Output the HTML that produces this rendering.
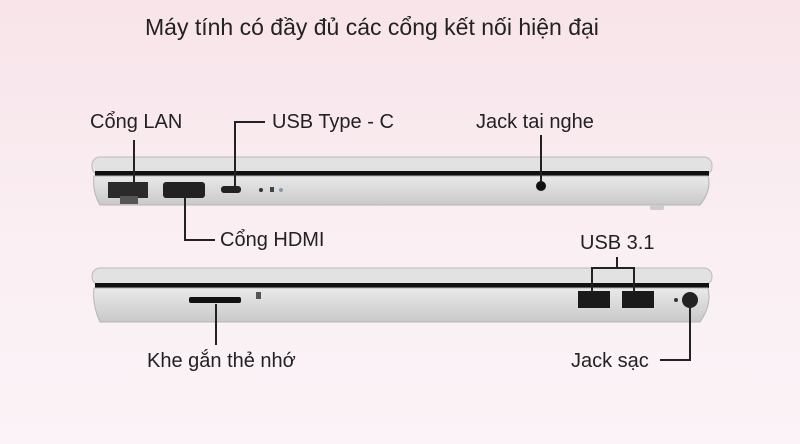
<!DOCTYPE html>
<html><head><meta charset="utf-8"><style>
body{margin:0;width:800px;height:444px;overflow:hidden;background:linear-gradient(#f8e4e9,#faf0f4 60%,#fbf3f7);font-family:"Liberation Sans","Noto Sans CJK SC",sans-serif;position:relative;color:#222}
.t{position:absolute;font-size:20px;white-space:nowrap}
</style></head><body>
<div class="t" style="left:145px;top:14px;font-size:23px">Máy tính có đầy đủ các cổng kết nối hiện đại</div>
<div class="t" style="left:90px;top:111px">Cổng LAN</div>
<div class="t" style="left:272px;top:111px">USB Type - C</div>
<div class="t" style="left:476px;top:111px">Jack tai nghe</div>
<div class="t" style="left:220px;top:229px">Cổng HDMI</div>
<div class="t" style="left:580px;top:232px">USB 3.1</div>
<div class="t" style="left:147px;top:350px">Khe gắn thẻ nhớ</div>
<div class="t" style="left:571px;top:350px">Jack sạc</div>
<svg width="800" height="444" style="position:absolute;left:0;top:0">
<defs><linearGradient id="g" x1="0" y1="0" x2="0" y2="1"><stop offset="0" stop-color="#e9e9e9"/><stop offset="1" stop-color="#c9c9c9"/></linearGradient></defs>
<rect x="92" y="157" width="620" height="18" rx="8" fill="#e2e2e2" stroke="#bbb"/>
<rect x="95" y="171" width="614" height="5" fill="#111"/>
<path d="M94 176 H708 Q712 190 700 205 H100 Q92 192 94 176Z" fill="url(#g)" stroke="#b5b5b5"/>
<rect x="108" y="182" width="40" height="16" fill="#2a2a2a"/>
<rect x="120" y="196" width="18" height="8" fill="#555"/>
<rect x="163" y="182" width="42" height="16" rx="3" fill="#222"/>
<rect x="221" y="186" width="20" height="7" rx="3" fill="#222"/>
<circle cx="261" cy="190" r="2" fill="#333"/><rect x="270" y="187" width="4" height="5" fill="#444"/><circle cx="281" cy="190" r="2" fill="#89a"/>
<circle cx="541" cy="186" r="5" fill="#111"/>
<rect x="650" y="205" width="14" height="5" rx="2" fill="#ccc"/>
<rect x="92" y="268" width="620" height="17" rx="8" fill="#e2e2e2" stroke="#bbb"/>
<rect x="95" y="283" width="614" height="5" fill="#111"/>
<path d="M94 288 H708 Q712 305 700 322 H100 Q92 305 94 288Z" fill="url(#g)" stroke="#b5b5b5"/>
<rect x="189" y="297" width="52" height="6" rx="2" fill="#111"/>
<rect x="256" y="292" width="5" height="7" fill="#555"/>
<rect x="578" y="291" width="32" height="17" fill="#1a1a1a"/>
<rect x="622" y="291" width="32" height="17" fill="#1a1a1a"/>
<circle cx="676" cy="300" r="2" fill="#333"/>
<circle cx="690" cy="300" r="8" fill="#222"/>
<g stroke="#222" stroke-width="2" fill="none">
<path d="M134 140 V182"/>
<path d="M265 122 H235 V187"/>
<path d="M541 135 V181"/>
<path d="M185 196 V240 H215"/>
<path d="M617 257 V268 M592 292 V268 H634 V292"/>
<path d="M216 304 V345"/>
<path d="M690 308 V360 H660"/>
</g>
</svg>
</body></html>
